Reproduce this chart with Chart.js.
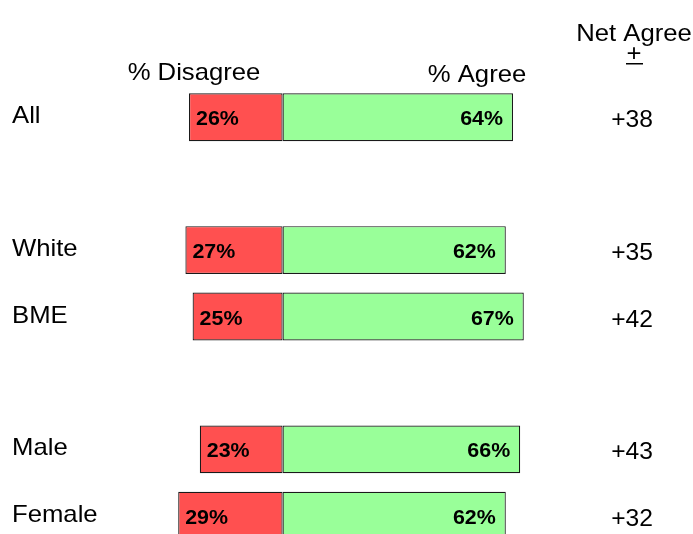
<!DOCTYPE html>
<html>
<head>
<meta charset="utf-8">
<script src="https://cdn.jsdelivr.net/npm/chart.js@4"></script>
<style>
  html, body { margin: 0; padding: 0; background: #fff; overflow: hidden; }
  #wrap { width: 693px; height: 570px; position: relative; }
</style>
</head>
<body>
<div id="wrap"><canvas id="chart"></canvas></div>
<script>
// groups, with blank rows as spacers
const groups = ["All", "", "White", "BME", "", "Male", "Female"];
const disagree = [26, null, 27, 25, null, 23, 29];
const agree = [64, null, 62, 67, null, 66, 62];
const netAgree = ["+38", "", "+35", "+42", "", "+43", "+32"];

const FONT = "'Liberation Sans', Arial, sans-serif";
const STRETCH = 1.07; // original text looks a bit wide

function wideText(ctx, txt, x, y) {
  ctx.save();
  ctx.translate(x, y);
  ctx.scale(STRETCH, 1);
  ctx.fillText(txt, 0, 0);
  ctx.restore();
}

const textPlugin = {
  id: "textPlugin",
  afterDatasetsDraw(chart) {
    const ctx = chart.ctx;
    const y = chart.scales.y;
    ctx.save();
    ctx.fillStyle = "#000";

    // bar value labels
    ctx.font = "bold 20px " + FONT;
    ctx.textBaseline = "alphabetic";
    chart.getDatasetMeta(0).data.forEach((bar, i) => {
      if (disagree[i] == null) return;
      ctx.textAlign = "left";
      wideText(ctx, disagree[i] + "%", bar.x + 7, bar.y + 8);
    });
    chart.getDatasetMeta(1).data.forEach((bar, i) => {
      if (agree[i] == null) return;
      ctx.textAlign = "right";
      wideText(ctx, agree[i] + "%", bar.x - 10, bar.y + 8);
    });

    // group names and net agree column
    groups.forEach((g, i) => {
      const cy = y.getPixelForValue(i);
      ctx.font = "24px " + FONT;
      ctx.textAlign = "left";
      wideText(ctx, g, 12, cy + 6);
      ctx.font = "23px " + FONT;
      ctx.textAlign = "center";
      wideText(ctx, netAgree[i], 632, cy + 10);
    });

    // column headers
    ctx.font = "24px " + FONT;
    ctx.textAlign = "center";
    wideText(ctx, "% Disagree", 194, 80);
    wideText(ctx, "% Agree", 477, 82);
    wideText(ctx, "Net Agree", 634, 41);
    ctx.font = "24px " + FONT;
    wideText(ctx, "+", 634, 61);
    ctx.fillRect(626, 63, 17, 1.5);
    ctx.restore();
  }
};

new Chart(document.getElementById("chart"), {
  type: "bar",
  data: {
    labels: groups,
    datasets: [
      {
        label: "% Disagree",
        data: disagree.map(v => v == null ? null : -v),
        backgroundColor: "#FF5050",
        borderColor: "#1a1a1a",
        borderWidth: 1.2,
        borderSkipped: false
      },
      {
        label: "% Agree",
        data: agree,
        backgroundColor: "#99FF99",
        borderColor: "#1a1a1a",
        borderWidth: 1.2,
        borderSkipped: false
      }
    ]
  },
  options: {
    indexAxis: "y",
    responsive: true,
    maintainAspectRatio: false,
    animation: false,
    layout: { padding: { top: 84, bottom: 21, left: 0, right: 0 } },
    plugins: {
      legend: { display: false },
      tooltip: { enabled: false },
      title: { display: false }
    },
    scales: {
      x: { stacked: true, min: -78.5, max: 114, display: false },
      y: { stacked: true, display: false }
    },
    datasets: {
      bar: { barPercentage: 0.72, categoryPercentage: 1 }
    }
  },
  plugins: [textPlugin]
});
</script>
</body>
</html>
